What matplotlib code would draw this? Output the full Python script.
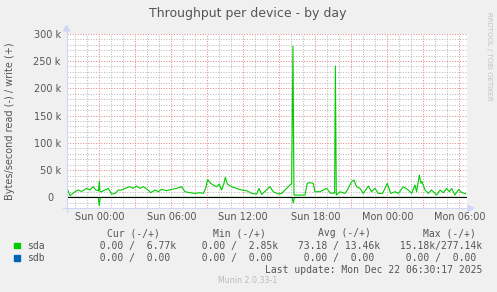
import matplotlib
matplotlib.use("Agg")
import matplotlib.pyplot as plt
from matplotlib.patches import Polygon, Rectangle

# sda write (+), bytes/s in k, hours relative to Sun 00:00
write_hours = [-2.67, -2.44, -2.03, -1.75, -1.47, -1.06, -0.78, -0.50, -0.28, -0.06,
               0.0, 0.06, 0.19, 0.47, 0.75, 1.03, 1.31, 1.58, 1.86, 2.14,
               2.56, 2.83, 3.11, 3.39, 3.67, 4.0, 4.28, 4.64, 4.92, 5.19,
               5.61, 6.03, 6.44, 6.86, 7.14, 7.56, 7.97, 8.39, 8.67, 8.86,
               9.03, 9.28, 9.5, 9.78, 10.0, 10.19, 10.39, 10.5, 10.67, 11.03,
               11.44, 11.86, 12.28, 12.69, 13.11, 13.31, 13.53, 14.22, 14.5, 14.92,
               15.19, 15.61, 16.03, 16.14, 16.22, 16.39, 17.14, 17.33, 17.56, 17.83,
               17.97, 18.39, 18.94, 19.28, 19.5, 19.61, 19.67, 19.75, 20.06, 20.47,
               20.67, 21.03, 21.22, 21.44, 21.72, 22.0, 22.42, 22.69, 22.97, 23.25,
               23.61, 24.0, 24.28, 24.64, 24.92, 25.33, 25.75, 26.03, 26.31, 26.44,
               26.67, 26.81, 26.89, 27.14, 27.42, 27.69, 28.11, 28.39, 28.67, 28.94,
               29.17, 29.36, 29.64, 29.94, 30.22, 30.53]
write_k = [16.5, 3.1, 10.4, 13.5, 11.0, 16.5, 13.5, 19.6, 13.5, 12.0,
           30.0, 10.4, 10.4, 13.5, 16.5, 6.1, 7.3, 13.5, 13.5, 16.5,
           19.6, 16.5, 20.8, 16.5, 19.6, 14.7, 8.6, 13.5, 10.4, 14.7,
           12.2, 14.7, 16.5, 19.6, 10.4, 8.6, 7.3, 8.6, 7.3, 16.5,
           33.0, 25.7, 22.7, 19.6, 24.5, 13.5, 25.7, 36.7, 24.5, 19.6,
           16.5, 13.5, 12.2, 7.3, 6.1, 16.5, 5.5, 19.6, 10.4, 6.1,
           7.3, 16.5, 25.7, 277.1, 4.3, 4.3, 4.3, 25.7, 27.0, 25.7,
           10.4, 10.4, 16.5, 7.3, 8.6, 7.3, 241.0, 4.3, 10.4, 7.3,
           13.5, 28.8, 31.8, 19.6, 16.5, 7.3, 20.8, 10.4, 16.5, 7.3,
           7.3, 25.7, 7.3, 10.4, 7.3, 19.6, 13.5, 7.3, 22.7, 10.4,
           41.0, 25.7, 28.8, 13.5, 7.3, 13.5, 4.3, 13.5, 8.6, 16.5,
           10.4, 16.5, 4.3, 14.7, 8.6, 6.8]

# sda read (-), drawn below zero
read_hours = [-2.67, -0.08, 0.0, 0.08, 16.06, 16.17, 16.25, 30.53]
read_k = [0, 0, 15.18, 0, 0, 10.0, 0, 0]

y_ticks = [0, 50, 100, 150, 200, 250, 300]
x_ticks = [0, 6, 12, 18, 24, 30]
x_labels = ["Sun 00:00", "Sun 06:00", "Sun 12:00", "Sun 18:00", "Mon 00:00", "Mon 06:00"]

devices = ["sda", "sdb"]
colors = ["#00CC00", "#0066B3"]
cur_read, cur_write = [0, 0], [6770, 0]
min_read, min_write = [0, 0], [2850, 0]
avg_read, avg_write = [73.18, 0], [13460, 0]
max_read, max_write = [15180, 0], [277140, 0]

W, H = 497, 292
fg = "#555555"
grid_minor = "#b8b8b8"
grid_major = "#e08888"
axis_col = "#CFD6F8"

fig = plt.figure(figsize=(W / 100, H / 100), dpi=100, facecolor="#F0F0F0")
x0, x1, ytop, ybot = 67, 467, 33.7, 208.3
ax = fig.add_axes([x0 / W, 1 - ybot / H, (x1 - x0) / W, (ybot - ytop) / H])
ax.set_facecolor("white")
ax.set_xlim(-2.69, 30.64)
ax.set_ylim(-20, 300)
for s in ax.spines.values():
    s.set_visible(False)

dot = (0, (1, 1.6))
for h in range(-2, 31):
    c = grid_major if h % 3 == 0 else grid_minor
    ax.axvline(h, color=c, lw=0.72, ls=dot, zorder=1)
for v in range(-10, 301, 10):
    if v == 0:
        continue
    c = grid_major if v % 50 == 0 else grid_minor
    ax.axhline(v, color=c, lw=0.72, ls=dot, zorder=1)

ax.plot(read_hours, [-v for v in read_k], color=colors[0], lw=0.8, zorder=3)
ax.axhline(0, color="black", lw=0.8, zorder=4)
ax.plot(write_hours, write_k, color=colors[0], lw=0.8, zorder=5)

ax.set_xticks(x_ticks)
ax.set_xticklabels(x_labels)
ax.set_yticks(y_ticks)
ax.set_yticklabels([f"{v} k" if v else "0\u2002\u2009" for v in y_ticks])
ax.tick_params(axis="both", length=0, labelsize=7, colors=fg)
ax.tick_params(axis="x", pad=2.5)
ax.tick_params(axis="y", pad=4.5)

# overlay in pixel coordinates
ov = fig.add_axes([0, 0, 1, 1], facecolor="none")
ov.set_xlim(0, W)
ov.set_ylim(H, 0)
ov.axis("off")
ov.plot([66.5, 66.5], [212, 30], color=axis_col, lw=0.8)
ov.add_patch(Polygon([[63.5, 31], [69.5, 31], [66.5, 25.5]], color=axis_col))
ov.plot([63, 468], [208.3, 208.3], color=axis_col, lw=0.8)
ov.add_patch(Polygon([[468, 205.3], [468, 211.3], [473.5, 208.3]], color=axis_col))

ov.text(248, 14, "Throughput per device - by day", fontsize=9, color=fg, ha="center", va="center")
ov.text(10, 121.5, "Bytes/second read (-) / write (+)", fontsize=7, color=fg,
        rotation=90, ha="center", va="center")
ov.text(489, 56, "RRDTOOL / TOBI OETIKER", fontsize=5, color="#c4c4c4",
        rotation=270, ha="center", va="center")


def fmt(v):
    if v >= 1000:
        return f"{v / 1000:6.2f}k"
    return f"{v:6.2f} "


mono = dict(family="DejaVu Sans Mono", fontsize=7, color=fg, va="center")
col_x = [87.5, 189.5, 292.4, 394.1]
head_x = [107, 213, 318, 423]
for hx, name in zip(head_x, ["Cur", "Min", "Avg", "Max"]):
    ov.text(hx, 233.3, f"{name} (-/+)", **mono)
row_y = [245.7, 258.0]
for i, dev in enumerate(devices):
    y = row_y[i]
    ov.add_patch(Rectangle((14, y - 2.8), 5.5, 5.5, color=colors[i]))
    ov.text(26.7, y, dev, **mono)
    pairs = [(cur_read[i], cur_write[i]), (min_read[i], min_write[i]),
             (avg_read[i], avg_write[i]), (max_read[i], max_write[i])]
    for cx, (r, w) in zip(col_x, pairs):
        ov.text(cx, y, fmt(r) + "/" + fmt(w), **mono)

ov.text(482.7, 269.7, "Last update: Mon Dec 22 06:30:17 2025", ha="right", **mono)
ov.text(248, 280.7, "Munin 2.0.33-1", fontsize=5.7, color="#bbbbbb", ha="center", va="center")

fig.savefig("out.png", dpi=100, facecolor=fig.get_facecolor())
